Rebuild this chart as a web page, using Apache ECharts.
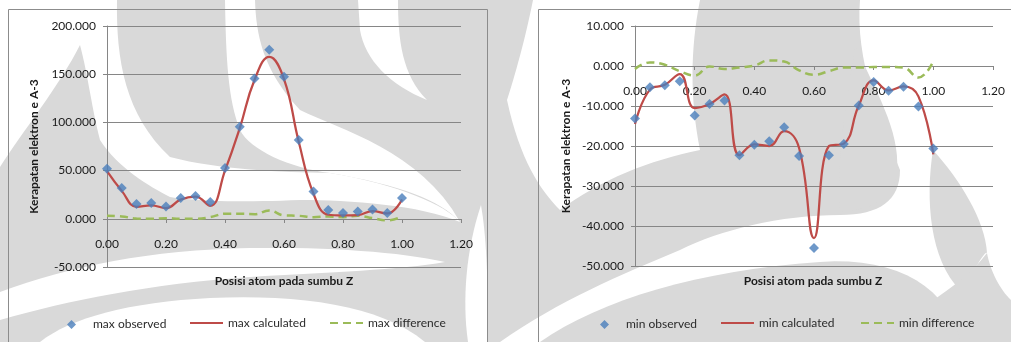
<!DOCTYPE html>
<html>
<head>
<meta charset="utf-8">
<script src="https://cdn.jsdelivr.net/npm/echarts@6/dist/echarts.min.js"></script>
<style>
  html, body { margin: 0; padding: 0; background: #ffffff; }
  #chart { width: 1011px; height: 342px; }
</style>
</head>
<body>
<div id="chart"></div>
<script>
// Positions along the Z axis (fractional coordinate)
const zPos = [0.00, 0.05, 0.10, 0.15, 0.20, 0.25, 0.30, 0.35, 0.40, 0.45, 0.50,
              0.55, 0.60, 0.65, 0.70, 0.75, 0.80, 0.85, 0.90, 0.95, 1.00];

// Maximum electron density (e/Å^3)
const maxObserved   = [52.0, 31.9, 15.3, 16.3, 12.8, 21.5, 23.6, 17.3, 52.7, 95.6, 145.5,
                       175.3, 147.3, 81.8, 28.4, 9.0, 5.9, 7.6, 9.7, 5.9, 21.5];
const maxCalculated = [49.5, 29.0, 12.5, 14.0, 11.0, 20.0, 23.0, 13.5, 50.0, 94.0, 144.0,
                       168.0, 145.0, 80.0, 26.0, 4.2, 3.5, 3.8, 8.0, 5.5, 20.0];
const maxDifference = [3.1, 2.4, 0.3, 0.0, 0.7, 0.0, 0.0, 1.7, 5.2, 5.2, 4.8,
                       8.7, 3.5, 3.1, 1.7, 2.4, 1.7, 3.1, 0.7, -1.7, 2.4];

// Minimum electron density (e/Å^3)
const minObserved   = [-13.1, -5.3, -4.8, -3.8, -12.4, -9.5, -8.6, -22.3, -19.7, -18.8, -15.3,
                       -22.5, -45.5, -22.3, -19.5, -9.9, -4.0, -6.2, -5.2, -10.1, -20.6];
const minCalculated = [-14.5, -5.9, -4.7, -2.0, -10.5, -9.5, -7.1, -22.3, -19.6, -20.0, -16.3,
                       -20.5, -43.0, -20.0, -19.4, -9.9, -3.6, -6.1, -5.1, -7.6, -22.1];
const minDifference = [-0.75, 0.9, 0.3, -1.3, -2.4, -0.1, -0.75, -0.35, 0.1, 1.4, 1.1,
                       -1.1, -2.2, -1.3, -0.4, -0.4, -0.25, -0.25, -0.4, -2.9, 1.2];

// Axis ranges and titles
const xTicks = { min: 0, max: 1.2, step: 0.2 };
const yMaxTicks = { min: -50, max: 200, step: 50 };
const yMinTicks = { min: -50, max: 10, step: 10 };
const xTitle = 'Posisi atom pada sumbu Z';
const yTitle = 'Kerapatan elektron e A-3';

const pairs = vals => vals.map((v, i) => [zPos[i], v]);

const FONT = 'Lato, "Open Sans", sans-serif';
const TEXT = '#1a1a1a';
const GRID = '#868686';
const BLUE = '#4a7ebb';
const RED = '#be4b48';
const GREEN = '#9bbb59';
const SHADE = '#d9d9d9';
const PAPER = '#ffffff';

// Plot rectangles
const plots = [
  { left: 107, top: 26, width: 354, height: 241 },
  { left: 635, top: 26, width: 358, height: 240 }
];

// distance from the bottom edge of a plot up to its zero line
function zeroLift(p, t) {
  return p.height * (0 - t.min) / (t.max - t.min);
}

function xAxisFor(gridIndex, t) {
  const lift = zeroLift(plots[gridIndex], t);
  return {
    type: 'value', gridIndex, position: 'bottom',
    offset: -Math.round(lift),
    min: xTicks.min, max: xTicks.max, interval: xTicks.step,
    axisLine: { onZero: false, lineStyle: { color: GRID, width: 1 } },
    axisTick: { show: true, inside: false, length: 4, lineStyle: { color: GRID } },
    axisLabel: { formatter: v => v.toFixed(2), fontFamily: FONT, fontSize: 12, color: TEXT, margin: 19 },
    splitLine: { show: false }
  };
}

function yAxisFor(gridIndex, t, nameGap) {
  return {
    type: 'value', gridIndex,
    min: t.min, max: t.max, interval: t.step,
    name: yTitle, nameLocation: 'middle', nameGap, nameRotate: 90,
    nameTextStyle: { fontFamily: FONT, fontWeight: 'bold', fontSize: 12, color: TEXT },
    axisLine: { show: true, onZero: false, lineStyle: { color: GRID, width: 1 } },
    axisTick: { show: true, inside: false, length: 4, lineStyle: { color: GRID } },
    axisLabel: { formatter: v => v.toFixed(3), fontFamily: FONT, fontSize: 12, color: TEXT, margin: 11 },
    splitLine: { show: true, lineStyle: { color: GRID, width: 1 } }
  };
}

function seriesSet(prefix, obs, calc, diff, idx) {
  return [
    { name: prefix + ' observed', type: 'scatter', xAxisIndex: idx, yAxisIndex: idx,
      data: pairs(obs), symbol: 'diamond', symbolSize: 10,
      itemStyle: { color: BLUE }, z: 5 },
    { name: prefix + ' calculated', type: 'line', xAxisIndex: idx, yAxisIndex: idx,
      data: pairs(calc), smooth: 0.45, symbol: 'none',
      lineStyle: { color: RED, width: 2.25 }, itemStyle: { color: RED }, z: 4 },
    { name: prefix + ' difference', type: 'line', xAxisIndex: idx, yAxisIndex: idx,
      data: pairs(diff), smooth: 0.45, symbol: 'none',
      lineStyle: { color: GREEN, width: 2.5, type: [8, 5] }, itemStyle: { color: GREEN }, z: 3 }
  ];
}

// diamond centred in a 33-wide key box (tiny end anchors keep the box width)
const DIAMOND_KEY = 'path://M0,4.5 L0.02,4.5 L0,4.52 Z M33,4.5 L32.98,4.5 L33,4.52 Z M16.5,0 L21,4.5 L16.5,9 L12,4.5 Z';

function legendAt(name, left, isMarker) {
  const item = isMarker ? { name, icon: DIAMOND_KEY } : { name };
  return {
    data: [item], left, top: isMarker ? 318.5 : 317, padding: 0,
    itemWidth: 33, itemHeight: isMarker ? 9 : 12, itemGap: 0,
    itemStyle: isMarker ? {} : { opacity: 0 },
    textStyle: { fontFamily: FONT, fontSize: 12, color: '#2b2b2b' },
    selectedMode: false
  };
}

// Soft background emblem: shaded fields with light sweeps cut through them
const shapes = [
  // left panel field
  { d: 'M0,0 L488,0 L488,342 L0,342 Z', fill: SHADE },
  // light area top-left, around the flame tip and under the large lobe
  { d: 'M0,0 L117,0 C116,60 125,115 170,157 C220,170 280,172 330,173 C400,185 445,205 460,222 C420,205 350,200 300,200 C250,202 200,202 170,197 C150,187 117,167 100,140 C92,110 88,75 80,45 C60,85 20,135 0,167 Z', fill: PAPER },
  // sweep through the large lobe
  { d: 'M225,0 L255,0 C256,33 262,70 300,110 C340,130 420,150 460,222 C440,200 400,185 330,173 C290,168 250,150 240,130 C228,100 226,60 225,0 Z', fill: PAPER },
  // small crescent near the top
  { d: 'M358,0 L398,0 C398,40 402,75 427,100 C390,85 365,60 360,30 Z', fill: PAPER },
  // lower sweep
  { d: 'M0,292 C70,266 150,250 250,248 C330,247 400,252 445,262 C400,270 330,272 250,277 C150,284 70,300 0,320 Z', fill: PAPER },
  // light band behind the key
  { d: 'M40,342 C70,318 130,302 210,298 C300,294 380,305 425,342 Z', fill: PAPER },
  // narrow light tongue at the right edge of the left panel
  { d: 'M468,342 C462,300 466,250 481,205 C486,235 488,270 488,342 Z', fill: PAPER },
  // between the two panels and behind the right plot
  { d: 'M488,0 L533,0 C525,40 515,75 507,100 C520,160 540,190 560,210 C600,180 650,160 700,150 C690,100 690,50 700,0 L860,0 C855,60 880,120 900,170 C900,200 880,215 840,215 C780,215 720,230 680,250 C620,275 560,300 500,342 L488,342 Z', fill: SHADE },
  // right flames
  { d: 'M855,45 C850,90 835,150 840,212 C870,210 895,200 897,170 C900,130 875,90 855,45 Z', fill: SHADE },
  { d: 'M933,150 C925,200 930,260 960,290 C975,270 985,250 987,253 C985,220 960,180 933,150 Z', fill: SHADE },
  { d: 'M987,253 C960,290 900,320 860,342 L1011,342 L1011,300 C1000,290 990,270 987,253 Z', fill: SHADE },
  { d: 'M540,342 C600,300 700,270 820,262 C900,256 950,290 960,342 Z', fill: SHADE }
];

// Flatten an outline into polygon points
function outlinePoints(d) {
  const tok = d.match(/[MLCZ]|-?\d+(?:\.\d+)?/g);
  const pts = [];
  let i = 0, cmd = null, cur = [0, 0];
  const num = () => parseFloat(tok[i++]);
  while (i < tok.length) {
    if (/[MLCZ]/.test(tok[i])) cmd = tok[i++];
    if (cmd === 'Z') continue;
    if (cmd === 'M' || cmd === 'L') {
      cur = [num(), num()];
      pts.push(cur);
    } else if (cmd === 'C') {
      const p1 = [num(), num()], p2 = [num(), num()], p3 = [num(), num()];
      const p0 = cur;
      for (let k = 1; k <= 16; k++) {
        const t = k / 16, u = 1 - t;
        pts.push([
          u*u*u*p0[0] + 3*u*u*t*p1[0] + 3*u*t*t*p2[0] + t*t*t*p3[0],
          u*u*u*p0[1] + 3*u*u*t*p1[1] + 3*u*t*t*p2[1] + t*t*t*p3[1]
        ]);
      }
      cur = p3;
    }
  }
  return pts;
}

const graphics = shapes.map((s, k) => ({
  type: 'polygon', z: -100, z2: k, silent: true,
  shape: { points: outlinePoints(s.d) }, style: { fill: s.fill, stroke: null }
}));
// chart-area frames
graphics.push({ type: 'rect', z: -50, silent: true, shape: { x: 8.5, y: 9.5, width: 479, height: 340 },
  style: { fill: null, stroke: '#8c8c8c', lineWidth: 1 } });
graphics.push({ type: 'rect', z: -50, silent: true, shape: { x: 538.5, y: 9.5, width: 480, height: 340 },
  style: { fill: null, stroke: '#8c8c8c', lineWidth: 1 } });
// horizontal axis titles
[[284, 281], [813, 281]].forEach(([cx, cy]) => {
  graphics.push({ type: 'text', z: 10, silent: true, x: cx, y: cy,
    style: { text: xTitle, fontFamily: FONT, fontWeight: 'bold', fontSize: 12, fill: TEXT,
      align: 'center', verticalAlign: 'middle', textAlign: 'center', textVerticalAlign: 'middle' } });
});

const chart = echarts.init(document.getElementById('chart'), null, { renderer: 'canvas' });
chart.setOption({
  animation: false,
  backgroundColor: PAPER,
  graphic: graphics,
  grid: plots.map(p => Object.assign({ containLabel: false, outerBoundsMode: 'none' }, p)),
  xAxis: [xAxisFor(0, yMaxTicks), xAxisFor(1, yMinTicks)],
  yAxis: [yAxisFor(0, yMaxTicks, 67), yAxisFor(1, yMinTicks, 63)],
  legend: [
    legendAt('max observed', 55, true),
    legendAt('max calculated', 189),
    legendAt('max difference', 329),
    legendAt('min observed', 588, true),
    legendAt('min calculated', 720),
    legendAt('min difference', 860)
  ],
  series: [
    ...seriesSet('max', maxObserved, maxCalculated, maxDifference, 0),
    ...seriesSet('min', minObserved, minCalculated, minDifference, 1)
  ]
});
</script>
</body>
</html>
